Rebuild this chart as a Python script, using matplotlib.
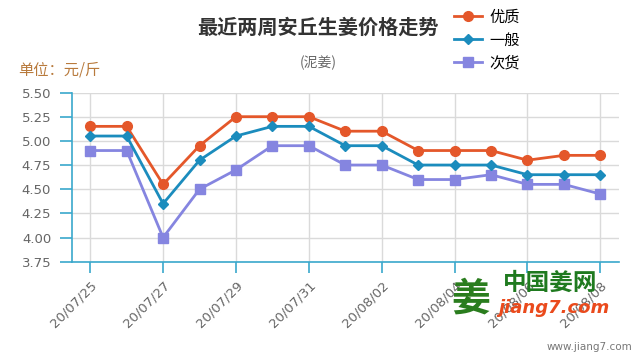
import matplotlib.pyplot as plt

plt.rcParams['font.family'] = ['Noto Sans CJK SC', 'DejaVu Sans']

dates = ['20/07/25', '20/07/26', '20/07/27', '20/07/28', '20/07/29', '20/07/30',
         '20/07/31', '20/08/01', '20/08/02', '20/08/03', '20/08/04', '20/08/05',
         '20/08/06', '20/08/07', '20/08/08']
youzhi = [5.15, 5.15, 4.55, 4.95, 5.25, 5.25, 5.25, 5.10, 5.10, 4.90, 4.90, 4.90, 4.80, 4.85, 4.85]
yiban = [5.05, 5.05, 4.35, 4.80, 5.05, 5.15, 5.15, 4.95, 4.95, 4.75, 4.75, 4.75, 4.65, 4.65, 4.65]
cihuo = [4.90, 4.90, 4.00, 4.50, 4.70, 4.95, 4.95, 4.75, 4.75, 4.60, 4.60, 4.65, 4.55, 4.55, 4.45]
yticks = [3.75, 4.00, 4.25, 4.50, 4.75, 5.00, 5.25, 5.50]

axcol = '#3aa8cc'
x = list(range(len(dates)))

fig = plt.figure(figsize=(6.4, 3.6), dpi=100)
ax = fig.add_axes([0.1125, 0.273, 0.854, 0.470])

ax.plot(x, youzhi, color='#e4572a', lw=2, marker='o', ms=7, label='优质', zorder=3)
ax.plot(x, yiban, color='#1b8cbd', lw=2, marker='D', ms=5, label='一般', zorder=4)
ax.plot(x, cihuo, color='#8585e0', lw=2, marker='s', ms=7, label='次货', zorder=2)

ax.set_xlim(-0.5, 14.5)
ax.set_ylim(3.75, 5.5)
ax.set_yticks(yticks)
ax.set_yticklabels(['%.2f' % v for v in yticks], family='DejaVu Sans')
ax.set_xticks(x[::2])
ax.set_xticklabels(dates[::2], rotation=45, ha='right', rotation_mode='anchor', family='DejaVu Sans')

ax.grid(True, color='#dadada', lw=1)
ax.set_axisbelow(True)
for s in ['top', 'right']:
    ax.spines[s].set_visible(False)
for s in ['left', 'bottom']:
    ax.spines[s].set_color(axcol)
    ax.spines[s].set_linewidth(1.2)
ax.tick_params(axis='y', length=9, color=axcol, width=1.2, labelcolor='#666666', labelsize=9.5, pad=6)
ax.tick_params(axis='x', length=8, color=axcol, width=1.2, labelcolor='#666666', labelsize=9.5, pad=4)

fig.text(0.497, 0.925, '最近两周安丘生姜价格走势', ha='center', va='center',
         fontsize=14.5, fontweight='bold', color='#333333')
fig.text(0.497, 0.825, '(泥姜)', ha='center', va='center', fontsize=10, color='#666666')
fig.text(0.028, 0.805, '单位：元/斤', ha='left', va='center', fontsize=11, color='#b87a3c')

fig.legend(loc='upper left', bbox_to_anchor=(0.688, 1.015), frameon=False,
           fontsize=11, handlelength=1.8, labelspacing=0.4, handletextpad=0.5)

# watermark
fig.text(0.735, 0.17, '姜', fontsize=28, fontweight='bold', color='#2a7d1e', ha='center', va='center')
fig.text(0.86, 0.215, '中国姜网', fontsize=17, fontweight='bold', color='#1f7a1f', ha='center', va='center')
fig.text(0.865, 0.145, 'jiang7.com', fontsize=13, fontweight='bold', style='italic',
         color='#ea4a1c', ha='center', va='center', family='DejaVu Sans')
fig.text(0.988, 0.035, 'www.jiang7.com', fontsize=7.5, color='#777777', ha='right', va='center',
         family='DejaVu Sans')

fig.savefig('out.png', dpi=100)
